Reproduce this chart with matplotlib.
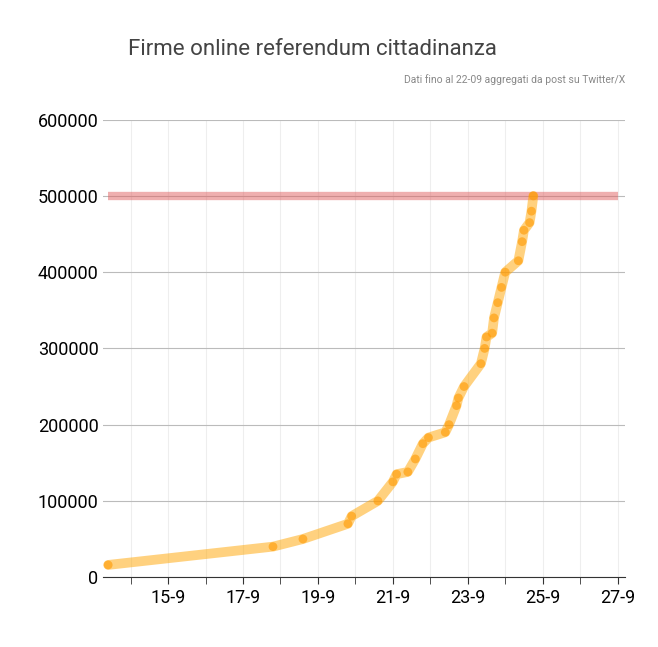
import matplotlib
matplotlib.use("Agg")
import matplotlib.pyplot as plt
import numpy as np

plt.rcParams['font.family'] = ['Roboto', 'DejaVu Sans']

# days in September (fractional), signatures
days = [13.4, 17.8, 18.6, 19.8, 19.9, 20.6, 21.0, 21.1, 21.4, 21.6, 21.8, 21.95,
        22.4, 22.5, 22.7, 22.75, 22.9, 23.35, 23.45, 23.5, 23.65, 23.7, 23.8, 23.9,
        24.0, 24.35, 24.45, 24.5, 24.65, 24.7, 24.75]
firme = [16000, 40000, 50000, 70000, 80000, 100000, 125000, 135000, 138000, 155000,
         175000, 183000, 190000, 200000, 225000, 235000, 250000, 280000, 300000,
         315000, 320000, 340000, 360000, 380000, 400000, 415000, 440000, 455000,
         465000, 480000, 500000]
obiettivo = 500000
tick_days = [15, 17, 19, 21, 23, 25, 27]
tick_labels = ["15-9", "17-9", "19-9", "21-9", "23-9", "25-9", "27-9"]

fig = plt.figure(figsize=(6.58, 6.47), dpi=100)
ax = fig.add_axes([0.157, 0.108, 0.793, 0.707])

ax.plot([13.4, 27.0], [obiettivo, obiettivo], color="#e06060", lw=6, alpha=0.5, solid_capstyle="butt")
ax.plot(days, firme, color="#ffa500", lw=7, alpha=0.5, solid_capstyle="round")
ax.scatter(days, firme, color="#ff9900", s=40, alpha=0.6, zorder=3, edgecolors="none")

ax.set_xlim(13.27, 27.2)
ax.set_ylim(0, 600000)
ax.set_yticks(range(0, 600001, 100000))
ax.set_xticks(tick_days)
ax.set_xticklabels(tick_labels)
ax.set_xticks(np.arange(14, 28, 1), minor=True)
ax.tick_params(axis="both", labelsize=13, length=0)
ax.tick_params(axis="x", which="both", length=5, color="#333333")
ax.grid(axis="y", color="#bbbbbb", lw=0.8)
ax.grid(axis="x", which="both", color="#eeeeee", lw=0.8)
ax.set_axisbelow(True)
for s in ["top", "right", "left"]:
    ax.spines[s].set_visible(False)
ax.spines["bottom"].set_color("#333333")

fig.text(0.195, 0.915, "Firme online referendum cittadinanza", ha="left", fontsize=16, color="#444444")
fig.text(0.95, 0.872, "Dati fino al 22-09 aggregati da post su Twitter/X", ha="right", fontsize=7.5, color="#888888")

fig.savefig("out.png", dpi=100)
